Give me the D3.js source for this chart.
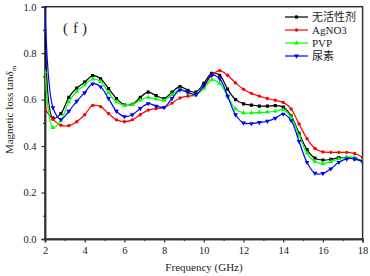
<!DOCTYPE html>
<html><head><meta charset="utf-8">
<script src="https://cdn.jsdelivr.net/npm/d3@7/dist/d3.min.js"></script>
<style>body{margin:0;background:#fff}svg{display:block}</style>
</head><body>
<svg id="c" width="370" height="276"></svg>
<script>
const freq = [2.0,2.4,2.8,3.2,3.6,4.0,4.4,4.8,5.2,5.6,6.0,6.4,6.8,7.2,7.6,8.0,8.4,8.8,9.2,9.6,10.0,10.4,10.8,11.2,11.6,12.0,12.4,12.8,13.2,13.6,14.0,14.4,14.8,15.2,15.6,16.0,16.4,16.8,17.2,17.6,18.0];
const seriesNames = ["无活性剂","AgNO3","PVP","尿素"];
const noSurfactant = [1.0,0.52,0.54,0.61,0.65,0.675,0.703,0.69,0.648,0.605,0.578,0.58,0.61,0.632,0.617,0.605,0.632,0.656,0.64,0.632,0.67,0.713,0.705,0.645,0.60,0.582,0.576,0.572,0.572,0.574,0.568,0.53,0.455,0.385,0.348,0.34,0.343,0.35,0.35,0.345,0.333];
const agno3 = [0.56,0.515,0.49,0.488,0.505,0.535,0.575,0.57,0.54,0.513,0.505,0.513,0.535,0.555,0.562,0.565,0.585,0.607,0.615,0.62,0.655,0.705,0.725,0.705,0.672,0.645,0.627,0.615,0.605,0.597,0.588,0.56,0.495,0.432,0.39,0.375,0.373,0.373,0.373,0.368,0.352];
const pvp = [0.72,0.48,0.51,0.59,0.635,0.663,0.688,0.678,0.63,0.59,0.575,0.578,0.598,0.61,0.602,0.597,0.622,0.642,0.628,0.622,0.648,0.685,0.67,0.615,0.56,0.543,0.543,0.545,0.546,0.55,0.556,0.525,0.445,0.37,0.333,0.325,0.333,0.345,0.353,0.352,0.333];
const urea = [1.0,0.566,0.515,0.55,0.593,0.63,0.668,0.655,0.605,0.55,0.527,0.535,0.562,0.583,0.572,0.567,0.605,0.642,0.632,0.622,0.66,0.705,0.69,0.615,0.535,0.5,0.497,0.502,0.507,0.52,0.538,0.51,0.42,0.33,0.283,0.282,0.302,0.33,0.345,0.345,0.335];
const xTicks = [2,4,6,8,10,12,14,16,18];
const yTicks = [0.0,0.2,0.4,0.6,0.8,1.0];

const colors = ["#000000","#ff0000","#00ff00","#0000ff"];
const shapes = [d3.symbolSquare, d3.symbolCircle, d3.symbolTriangle, d3.symbolTriangle];
const rotations = [0,0,0,180];
const allValues = [noSurfactant, agno3, pvp, urea];

const svg = d3.select("#c");
const L=45, R=362.6, T=6.7, B=239;
const x = d3.scaleLinear().domain([2,18]).range([L,R]);
const y = d3.scaleLinear().domain([0,1]).range([B,T]);
const serif = "'Liberation Serif','Times New Roman','Noto Sans CJK SC',serif";

svg.append("defs").append("clipPath").attr("id","clip")
  .append("rect").attr("x",L).attr("y",T).attr("width",R-L).attr("height",B-T);

svg.append("rect").attr("x",L).attr("y",T).attr("width",R-L).attr("height",B-T)
  .attr("fill","none").attr("stroke","#333").attr("stroke-width",1.5);

const xAxis = d3.axisBottom(x).tickValues(xTicks).tickFormat(d3.format("d")).tickSize(3.5).tickPadding(4);
const gx = svg.append("g").attr("transform",`translate(0,${B})`).call(xAxis);
const xMinor = svg.append("g").attr("transform",`translate(0,${B})`)
  .call(d3.axisBottom(x).tickValues([3,5,7,9,11,13,15,17]).tickFormat("").tickSize(2));
const yAxis = d3.axisLeft(y).tickValues(yTicks).tickFormat(d3.format(".1f")).tickSize(3.5).tickPadding(5);
const gy = svg.append("g").attr("transform",`translate(${L},0)`).call(yAxis);
const yMinor = svg.append("g").attr("transform",`translate(${L},0)`)
  .call(d3.axisLeft(y).tickValues([0.1,0.3,0.5,0.7,0.9]).tickFormat("").tickSize(2));
[gx,gy,xMinor,yMinor].forEach(g=>{
  g.select(".domain").attr("stroke","#333").attr("stroke-width",1.5);
  g.selectAll(".tick line").attr("stroke","#333").attr("stroke-width",1.2);
  g.selectAll("text").attr("font-family",serif).attr("font-size",10.5).attr("fill","#222");
});

const line = d3.line().x((d,i)=>x(freq[i])).y(d=>y(d)).curve(d3.curveCatmullRom.alpha(0.5));
const plot = svg.append("g").attr("clip-path","url(#clip)");
allValues.forEach((vals,k)=>{
  plot.append("path").datum(vals).attr("d",line).attr("fill","none")
    .attr("stroke",colors[k]).attr("stroke-width",1.2);
  plot.selectAll(null).data(vals).enter().append("path")
    .attr("d",d3.symbol().type(shapes[k]).size(k==1?9:10))
    .attr("transform",(d,i)=>`translate(${x(freq[i])},${y(d)}) rotate(${rotations[k]})`)
    .attr("fill",colors[k]);
});

const legY = [17,30,43,56];
seriesNames.forEach((n,k)=>{
  const g = svg.append("g").attr("transform",`translate(0,${legY[k]})`);
  g.append("line").attr("x1",285).attr("x2",308).attr("y1",0).attr("y2",0)
    .attr("stroke",colors[k]).attr("stroke-width",1.2);
  g.append("path").attr("d",d3.symbol().type(shapes[k]).size(k==1?9:10)())
    .attr("transform",`translate(296.5,0) rotate(${rotations[k]})`).attr("fill",colors[k]);
  g.append("text").attr("x",312).attr("y",4).text(n)
    .attr("font-family",serif).attr("font-size",11).attr("fill","#222");
});

const pl = svg.append("text").attr("y",33).attr("font-family",serif).attr("font-size",15).attr("fill","#222");
pl.append("tspan").attr("x",63).text("(");
pl.append("tspan").attr("x",73).text("f");
pl.append("tspan").attr("x",82).text(")");

svg.append("text").attr("x",204).attr("y",271).attr("text-anchor","middle")
  .text("Frequency (GHz)").attr("font-family",serif).attr("font-size",11).attr("fill","#222");
const yl = svg.append("text").attr("transform","translate(13,110) rotate(-90)").attr("text-anchor","middle")
  .attr("font-family",serif).attr("font-size",11).attr("fill","#222");
yl.append("tspan").text("Magnetic loss tan");
yl.append("tspan").text("δ").attr("font-style","italic");
yl.append("tspan").text("m").attr("font-size",7).attr("dy",2.5);
</script>
</body></html>
